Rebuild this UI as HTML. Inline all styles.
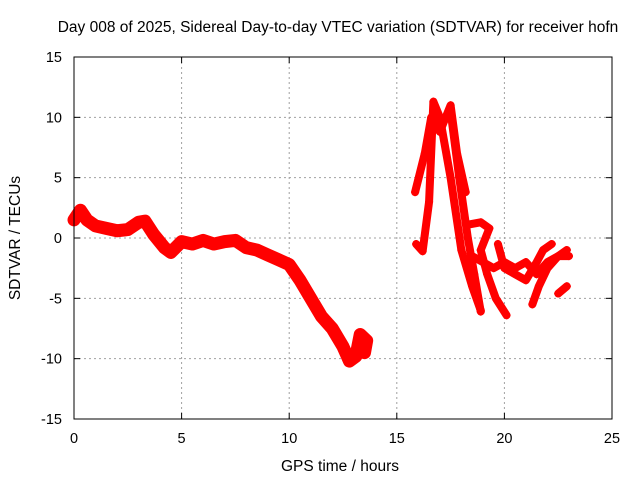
<!DOCTYPE html>
<html><head><meta charset="utf-8"><style>
body{margin:0;background:#fff;}
svg{display:block;font-family:"Liberation Sans",sans-serif;}
</style></head><body>
<svg id="chart" width="640" height="480" viewBox="0 0 640 480">
<text x="338" y="32" font-size="15.5" text-anchor="middle">Day 008 of 2025, Sidereal Day-to-day VTEC variation (SDTVAR) for receiver hofn</text>
<text x="340" y="471" font-size="15.5" text-anchor="middle">GPS time / hours</text>
<text transform="translate(20,238) rotate(-90)" font-size="15.5" text-anchor="middle">SDTVAR / TECUs</text>
<g id="grid"></g><g id="axes"></g><g id="marks"></g>
<rect x="74" y="57" width="538" height="362" fill="none" stroke="#000" stroke-width="1"/>
</svg>
<script>
const xTicks=[0,5,10,15,20,25];
const yTicks=[-15,-10,-5,0,5,10,15];
const trackA_t=[0,0.3,0.6,1,1.5,2,2.5,3,3.3,3.7,4.2,4.5,5,5.5,6,6.5,7,7.5,8,8.5,9,9.5,10,10.5,11,11.5,12,12.5,12.8,13.1,13.3,13.6,13.5];
const trackA_v=[1.5,2.3,1.5,1,0.8,0.6,0.7,1.3,1.4,0.3,-0.8,-1.2,-0.3,-0.5,-0.2,-0.5,-0.3,-0.2,-0.8,-1,-1.4,-1.8,-2.2,-3.5,-5,-6.5,-7.5,-9,-10.2,-9.8,-8,-8.5,-9.5];
const trackB_t=[15.9,16.2,16.5,16.7,17,17.5,18,18.5,18.9];
const trackB_v=[-0.5,-1.1,3,11.3,10,5,-1,-4,-6];
const trackC_t=[15.85,16.3,16.6,17,17.5,17.8,18.2];
const trackC_v=[3.8,7,10,8.8,11,7,3.8];
const trackD_t=[17.5,17.9,18.3,18.6,18.9];
const trackD_v=[10.5,5,0,-3,-6.1];
const trackE_t=[18.3,18.9,19.3,18.9,19.2,19.6,20.1];
const trackE_v=[1.1,1.3,0.8,-1,-3,-5,-6.4];
const trackF_t=[18.5,19,19.5,20,20.5,21,21.5,22,22.5,23];
const trackF_v=[-1.5,-2,-2.5,-2,-2.5,-2,-3,-2,-1.5,-1.5];
const trackG_t=[19.7,20,20.5,21,21.5,21.8,22.2];
const trackG_v=[-0.5,-2.5,-3,-3.5,-2,-1,-0.5];
const trackH_t=[21.3,21.6,22,22.5,22.9];
const trackH_v=[-5.5,-4,-2.5,-1.5,-1];
const trackI_t=[22.5,22.9];
const trackI_v=[-4.6,-4];
const tracks=[[trackA_t,trackA_v],[trackB_t,trackB_v],[trackC_t,trackC_v],[trackD_t,trackD_v],[trackE_t,trackE_v],[trackF_t,trackF_v],[trackG_t,trackG_v],[trackH_t,trackH_v],[trackI_t,trackI_v]];
const X=t=>74+t*(538/25), Y=v=>238-v*(362/30);
const NS="http://www.w3.org/2000/svg";
function mk(tag,attrs,parent){const e=document.createElementNS(NS,tag);for(const k in attrs)e.setAttribute(k,attrs[k]);parent.appendChild(e);return e;}
const grid=document.getElementById('grid'),axes=document.getElementById('axes'),marks=document.getElementById('marks');
xTicks.forEach(t=>{
 if(t>0&&t<25){const g=mk('line',{x1:X(t),x2:X(t),y1:57,y2:419,stroke:'#a0a0a0','stroke-dasharray':'2,3'},grid);
 
 }
 const l=mk('text',{x:X(t),y:443,'font-size':14.5,'text-anchor':'middle'},axes);l.textContent=t;
 
 
 mk('line',{x1:X(t),x2:X(t),y1:419,y2:413,stroke:'#000'},axes);mk('line',{x1:X(t),x2:X(t),y1:57,y2:63,stroke:'#000'},axes);
});
yTicks.forEach(v=>{
 if(v>-15&&v<15){const g=mk('line',{x1:74,x2:612,y1:Y(v),y2:Y(v),stroke:'#a0a0a0','stroke-dasharray':'2,3'},grid);
 
 }
 const l=mk('text',{x:62,y:Y(v)+5,'font-size':14.5,'text-anchor':'end'},axes);l.textContent=v;
 
 
 mk('line',{x1:74,x2:80,y1:Y(v),y2:Y(v),stroke:'#000'},axes);mk('line',{x1:612,x2:606,y1:Y(v),y2:Y(v),stroke:'#000'},axes);
});
tracks.forEach((tr,i)=>{
 const pts=tr[0].map((t,j)=>X(t)+','+Y(tr[1][j])).join(' ');
 const p=mk('polyline',{points:pts,fill:'none',stroke:'#f00','stroke-width':i==0?13:8,'stroke-linejoin':'round','stroke-linecap':'round'},marks);
 
 
 tr[0].forEach((t,j)=>{
  const x=X(t),y=Y(tr[1][j]);
  const m=mk('path',{d:`M${x-4},${y}h8M${x},${y-4}v8`,stroke:'#f00','stroke-width':1.5},marks);
  
  
 });
});
</script>
</body></html>
